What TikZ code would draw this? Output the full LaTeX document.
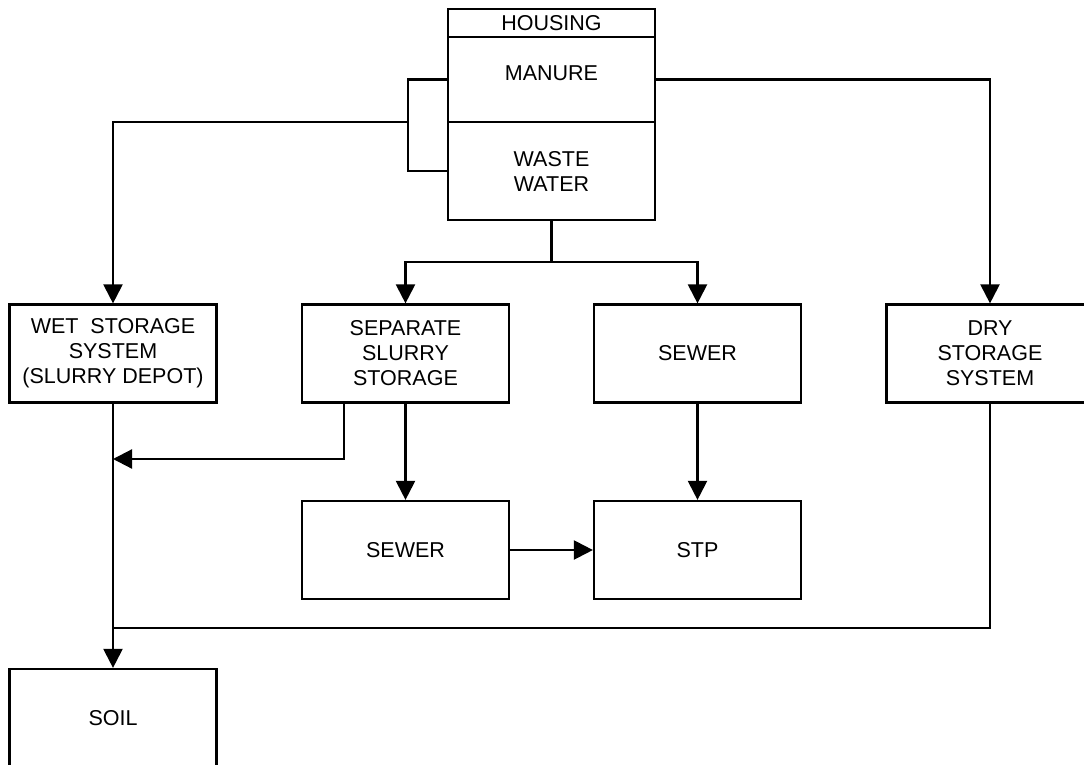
\documentclass[tikz,border=0pt]{standalone}
\usepackage{fontspec}
\setmainfont{Liberation Sans}
\usetikzlibrary{arrows.meta}

\begin{document}
\begin{tikzpicture}[>={Triangle[length=19pt,width=19pt]}, x=1pt, y=-1pt, line width=2.2pt,
        box/.style={draw, minimum width=207pt, minimum height=98pt, align=center, inner sep=0pt,
            font=\fontsize{21.5}{25}\selectfont}]
            \useasboundingbox (0,0) rectangle (1084,765);
            \clip (0,0) rectangle (1084,765);

            \node[box, minimum height=28pt] (housing) at (551.5,23) {HOUSING};
            \node[box, minimum height=85pt, text depth=13pt] (manure) at (551.5,79.5) {MANURE};
            \node[box] (waste) at (551.5,171) {WASTE\\WATER};

            \node[box] (wet) at (113,353.5) {WET\ \ STORAGE\\SYSTEM\\(SLURRY DEPOT)};
            \node[box] (sep) at (405.5,353.5) {SEPARATE\\SLURRY\\STORAGE};
            \node[box] (sewer) at (697.5,353.5) {SEWER};
            \node[box] (dry) at (990,353.5) {DRY\\STORAGE\\SYSTEM};
            \node[box] (sewertwo) at (405.5,550) {SEWER};
            \node[box] (stp) at (697.5,550) {STP};
            \node[box] (soil) at (113,718) {SOIL};

            \coordinate (join) at (408,122);
            \coordinate (split) at (551.5,262);
            \coordinate (merge) at (113,459);
            \coordinate (meet) at (113,628);

            \draw (manure.west) -| (join) |- (waste.west);
            \draw[->] (join) -| (wet.north);
            \draw[->] (manure.east) -| (dry.north);
            \draw (waste.south) -- (split);
            \draw[->] (split) -| (sep.north);
            \draw[->] (split) -| (sewer.north);
            \draw[->] ([xshift=-61.5pt]sep.south) |- (merge);
            \draw[->] (sep.south) -- (sewertwo.north);
            \draw[->] (sewer.south) -- (stp.north);
            \draw[->] (sewertwo.east) -- (stp.west);
            \draw[->] (wet.south) -- (soil.north);
            \draw (dry.south) |- (meet);
        \end{tikzpicture}
\end{document}
